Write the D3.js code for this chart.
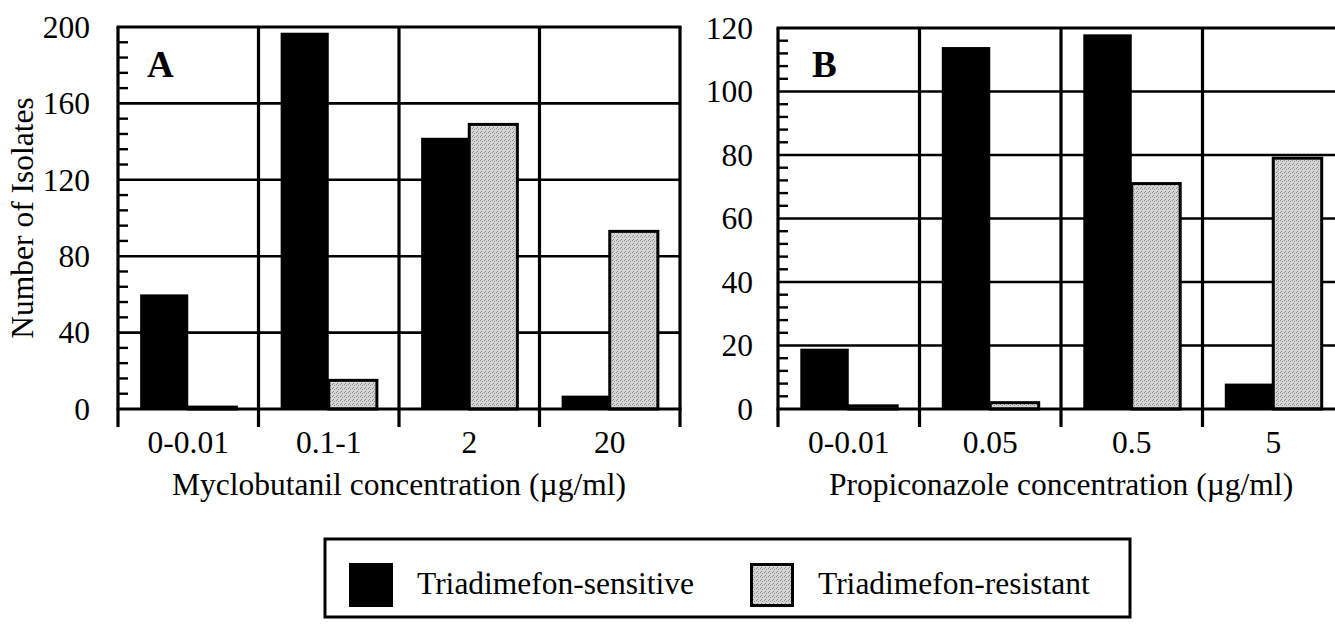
<!DOCTYPE html>
<html>
<head>
<meta charset="utf-8">
<script src="https://cdn.jsdelivr.net/npm/d3@7"></script>
<style>
  html, body { margin: 0; padding: 0; background: #fff; overflow: hidden; }
  svg { display: block; }
  text { font-family: "Liberation Serif", "Times New Roman", serif; fill: #000; }
</style>
</head>
<body>
<svg id="chart" width="1335" height="624"></svg>
<script>
// ---- Data ----
const seriesNames = ["Triadimefon-sensitive", "Triadimefon-resistant"];

const categoriesA = ["0-0.01", "0.1-1", "2", "20"];
const sensitiveA  = [60, 197, 142, 7];
const resistantA  = [1, 15, 149, 93];
const yTicksA     = [0, 40, 80, 120, 160, 200];
const xTitleA     = "Myclobutanil concentration (\u00B5g/ml)";

const categoriesB = ["0-0.01", "0.05", "0.5", "5"];
const sensitiveB  = [19, 114, 118, 8];
const resistantB  = [1, 2, 71, 79];
const yTicksB     = [0, 20, 40, 60, 80, 100, 120];
const xTitleB     = "Propiconazole concentration (\u00B5g/ml)";

const yTitle = "Number of Isolates";

// ---- Drawing ----
const FS = 31.5;
const svg = d3.select("#chart");
const defs = svg.append("defs");
const pat = defs.append("pattern")
  .attr("id", "stipple").attr("width", 4).attr("height", 4)
  .attr("patternUnits", "userSpaceOnUse");
pat.append("rect").attr("width", 4).attr("height", 4).attr("fill", "#d6d6d6");
[[0,0],[2,1],[1,3]].forEach(([x,y]) =>
  pat.append("rect").attr("x", x).attr("y", y).attr("width", 1).attr("height", 1).attr("fill", "#8a8a8a"));

function panel(cfg) {
  const { left, right, top, bottom, cats, sens, res, ticks, minorStep, letter, xTitle, labelGap } = cfg;
  const g = svg.append("g");
  const yMax = ticks[ticks.length - 1];
  const x = d3.scaleBand().domain(cats).range([left, right]).paddingInner(0).paddingOuter(0);
  const xs = d3.scaleBand().domain(["s", "r"]).range([0, x.bandwidth()]).paddingInner(0).paddingOuter(0.46);
  const y = d3.scaleLinear().domain([0, yMax]).range([bottom, top]);

  g.selectAll("line.grid").data(ticks.slice(1, -1)).join("line")
    .attr("x1", left).attr("x2", right)
    .attr("y1", d => y(d)).attr("y2", d => y(d))
    .attr("stroke", "#000").attr("stroke-width", 2.6);

  const minors = d3.range(0, yMax + 0.001, minorStep).filter(v => !ticks.includes(v));
  g.selectAll("line.minor").data(minors).join("line")
    .attr("x1", left).attr("x2", left + 10)
    .attr("y1", d => y(d)).attr("y2", d => y(d))
    .attr("stroke", "#000").attr("stroke-width", 2.4);

  cats.forEach((c, i) => {
    g.append("rect")
      .attr("x", x(c) + xs("s")).attr("width", xs.bandwidth())
      .attr("y", y(sens[i])).attr("height", y(0) - y(sens[i]))
      .attr("fill", "#000");
    g.append("rect")
      .attr("x", x(c) + xs("r")).attr("width", xs.bandwidth())
      .attr("y", y(res[i])).attr("height", y(0) - y(res[i]))
      .attr("fill", "url(#stipple)").attr("stroke", "#000").attr("stroke-width", 3);
  });

  const bounds = cats.map(c => x(c)).concat([right]);
  g.selectAll("line.vdiv").data(bounds).join("line")
    .attr("x1", d => d).attr("x2", d => d)
    .attr("y1", top).attr("y2", bottom + 18)
    .attr("stroke", "#000").attr("stroke-width", 3.2);

  g.append("line").attr("x1", left - 1.5).attr("x2", right + 1.5).attr("y1", top).attr("y2", top)
    .attr("stroke", "#000").attr("stroke-width", 3.2);
  g.append("line").attr("x1", left - 1.5).attr("x2", right + 1.5).attr("y1", bottom).attr("y2", bottom)
    .attr("stroke", "#000").attr("stroke-width", 3.2);

  g.selectAll("text.yt").data(ticks).join("text")
    .attr("x", left - labelGap).attr("y", d => y(d)).attr("dy", "0.34em")
    .attr("text-anchor", "end").attr("font-size", FS).text(d => d);

  g.selectAll("text.xt").data(cats).join("text")
    .attr("x", d => x(d) + x.bandwidth() / 2).attr("y", 453)
    .attr("text-anchor", "middle").attr("font-size", FS).text(d => d);

  g.append("text").attr("x", (left + right) / 2).attr("y", 495)
    .attr("text-anchor", "middle").attr("font-size", FS).text(xTitle);

  g.append("text").attr("x", left + cfg.letterDx).attr("y", 77)
    .attr("font-size", 37).attr("font-weight", "bold").text(letter);
}

panel({ left: 118, right: 680, top: 27, bottom: 409, cats: categoriesA, sens: sensitiveA, res: resistantA,
        ticks: yTicksA, minorStep: 8, letter: "A", letterDx: 29, xTitle: xTitleA, labelGap: 28 });
panel({ left: 778, right: 1344, top: 28, bottom: 409, cats: categoriesB, sens: sensitiveB, res: resistantB,
        ticks: yTicksB, minorStep: 4, letter: "B", letterDx: 34, xTitle: xTitleB, labelGap: 25 });

svg.append("text").attr("transform", "translate(33,218) rotate(-90)")
  .attr("text-anchor", "middle").attr("font-size", FS).text(yTitle);

// legend
const lg = svg.append("g");
lg.append("rect").attr("x", 325).attr("y", 539).attr("width", 805).attr("height", 78)
  .attr("fill", "none").attr("stroke", "#000").attr("stroke-width", 3);
const legendX = [349, 750];
seriesNames.forEach((name, i) => {
  lg.append("rect").attr("x", legendX[i] + (i ? 1.5 : 0)).attr("y", 563 + (i ? 1.5 : 0))
    .attr("width", i ? 41 : 44).attr("height", i ? 41 : 44)
    .attr("fill", i ? "url(#stipple)" : "#000")
    .attr("stroke", i ? "#000" : "none").attr("stroke-width", 3);
  lg.append("text").attr("x", legendX[i] + 68).attr("y", 594)
    .attr("font-size", FS).text(name);
});
</script>
</body>
</html>
